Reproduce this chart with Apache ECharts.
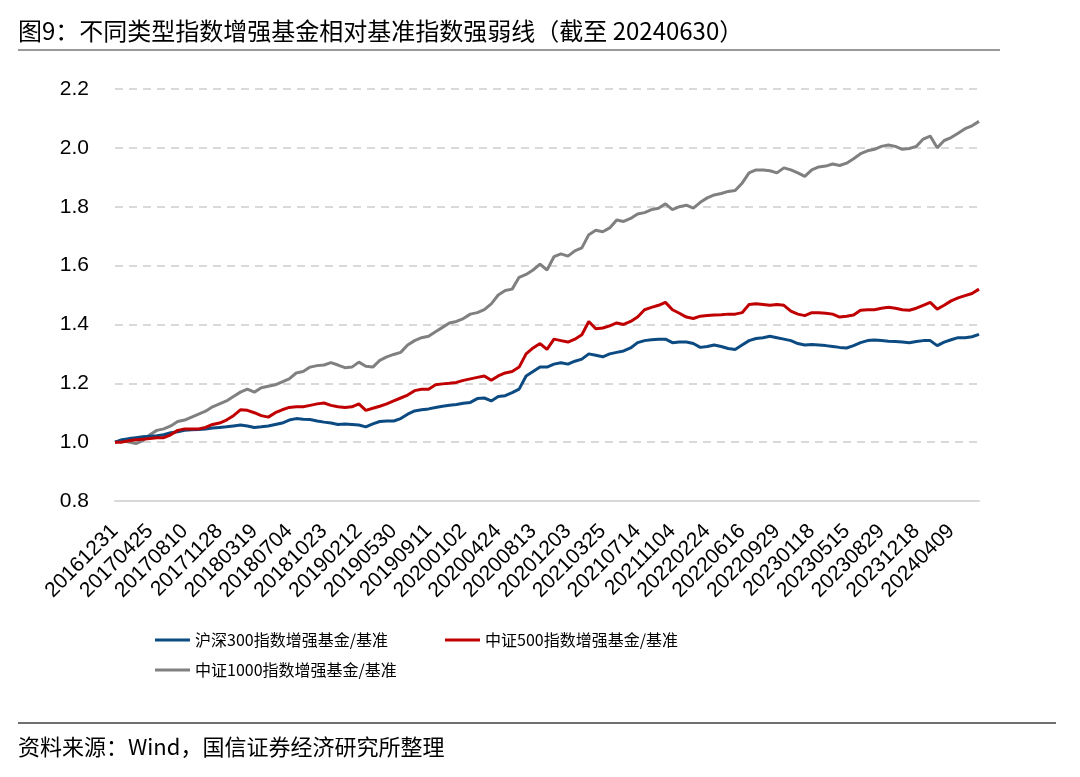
<!DOCTYPE html>
<html>
<head>
<meta charset="utf-8">
<script src="https://cdn.jsdelivr.net/npm/echarts@6/dist/echarts.min.js"></script>
<style>
html,body{margin:0;padding:0;background:#fff;}
#chart{width:1080px;height:777px;}
</style>
</head>
<body>
<div id="chart"></div>
<script>
// Tick labels on the x axis (one every label interval)
const tickLabels = ['20161231','20170425','20170810','20171128','20180319','20180704','20181023','20190212','20190530','20190911','20200102','20200424','20200813','20201203','20210325','20210714','20211104','20220224','20220616','20220929','20230118','20230515','20230829','20231218','20240409'];
// Samples per label interval (points read every 1/5 of an interval)
const pointsPerTick = 5;

const seriesNames = ['沪深300指数增强基金/基准','中证500指数增强基金/基准','中证1000指数增强基金/基准'];

const hs300 = [
1.000,1.008,1.012,1.015,1.018,1.020,1.022,1.025,1.032,1.035,
1.040,1.042,1.043,1.045,1.048,1.050,1.052,1.055,1.058,1.055,
1.050,1.052,1.055,1.060,1.065,1.075,1.080,1.078,1.077,1.072,
1.068,1.065,1.060,1.062,1.060,1.058,1.052,1.062,1.070,1.072,
1.072,1.080,1.095,1.106,1.110,1.113,1.118,1.122,1.125,1.128,
1.132,1.135,1.148,1.150,1.140,1.155,1.158,1.168,1.180,1.225,
1.240,1.255,1.255,1.265,1.270,1.265,1.275,1.282,1.300,1.295,
1.290,1.300,1.305,1.310,1.320,1.338,1.345,1.348,1.350,1.350,
1.338,1.340,1.340,1.335,1.322,1.325,1.330,1.325,1.318,1.315,
1.330,1.345,1.352,1.355,1.360,1.355,1.350,1.345,1.335,1.330,
1.332,1.330,1.328,1.325,1.322,1.320,1.328,1.338,1.345,1.347,
1.345,1.343,1.342,1.340,1.338,1.342,1.345,1.345,1.328,1.340,
1.348,1.355,1.355,1.358,1.366];

const zz500 = [
1.000,1.000,1.005,1.008,1.010,1.012,1.015,1.015,1.025,1.040,
1.045,1.045,1.045,1.050,1.060,1.065,1.075,1.090,1.110,1.108,
1.100,1.090,1.085,1.100,1.110,1.118,1.120,1.120,1.125,1.130,
1.133,1.125,1.120,1.118,1.120,1.130,1.108,1.115,1.122,1.130,
1.140,1.150,1.160,1.175,1.180,1.180,1.195,1.198,1.200,1.203,
1.210,1.215,1.220,1.225,1.210,1.225,1.235,1.240,1.255,1.300,
1.320,1.335,1.315,1.350,1.345,1.340,1.350,1.365,1.410,1.385,
1.388,1.395,1.405,1.400,1.410,1.425,1.450,1.458,1.465,1.475,
1.450,1.438,1.425,1.420,1.428,1.430,1.432,1.433,1.435,1.435,
1.440,1.468,1.470,1.468,1.465,1.468,1.465,1.445,1.435,1.430,
1.440,1.440,1.438,1.435,1.425,1.428,1.432,1.448,1.450,1.450,
1.455,1.458,1.455,1.450,1.448,1.455,1.465,1.475,1.452,1.465,
1.480,1.490,1.498,1.505,1.520];

const zz1000 = [
1.000,1.005,1.000,0.995,1.005,1.025,1.040,1.045,1.055,1.070,
1.075,1.085,1.095,1.105,1.120,1.130,1.140,1.155,1.170,1.180,
1.170,1.185,1.190,1.195,1.205,1.215,1.235,1.240,1.255,1.260,
1.262,1.270,1.262,1.253,1.255,1.272,1.258,1.255,1.278,1.290,
1.298,1.305,1.330,1.345,1.355,1.360,1.375,1.390,1.405,1.410,
1.420,1.435,1.440,1.450,1.470,1.500,1.515,1.520,1.560,1.570,
1.585,1.605,1.585,1.630,1.640,1.632,1.650,1.660,1.705,1.720,
1.715,1.728,1.755,1.750,1.760,1.775,1.780,1.790,1.795,1.810,
1.790,1.800,1.805,1.795,1.815,1.830,1.840,1.845,1.852,1.855,
1.880,1.915,1.925,1.925,1.922,1.915,1.932,1.925,1.915,1.903,
1.925,1.935,1.938,1.945,1.940,1.948,1.963,1.980,1.990,1.995,
2.005,2.010,2.005,1.995,1.998,2.005,2.030,2.040,2.000,2.025,
2.035,2.050,2.065,2.075,2.090];

const colors = ['#0c4a82','#c00000','#808080'];

const toPairs = arr => arr.map((v, i) => [i / pointsPerTick, v]);
const xMax = (zz1000.length - 1) / pointsPerTick;

const chart = echarts.init(document.getElementById('chart'), null, {renderer: 'canvas'});
const latin = 'Arial, "Liberation Sans", sans-serif';
const cjk = '"Noto Sans CJK SC", "Microsoft YaHei", sans-serif';

const legendBase = {
  orient: 'horizontal',
  itemWidth: 35,
  itemHeight: 3,
  itemGap: 0,
  padding: 0,
  icon: 'rect',
  textStyle: {fontFamily: cjk, fontSize: 16, color: '#000'}
};

chart.setOption({
  animation: false,
  backgroundColor: '#fff',
  color: colors,
  title: [
    {text: '图9：不同类型指数增强基金相对基准指数强弱线（截至 20240630）', left: 18, top: 19, padding: 0,
     textStyle: {fontFamily: cjk, fontSize: 24, fontWeight: 'normal', color: '#000'}},
    {text: '资料来源：Wind，国信证券经济研究所整理', left: 18, top: 736, padding: 0,
     textStyle: {fontFamily: cjk, fontSize: 22, fontWeight: 'normal', color: '#000'}}
  ],
  graphic: [
    {type: 'line', shape: {x1: 18, y1: 50, x2: 1000, y2: 50}, style: {stroke: '#9a9a9a', lineWidth: 2}},
    {type: 'line', shape: {x1: 18, y1: 723, x2: 1056, y2: 723}, style: {stroke: '#404040', lineWidth: 1.5}}
  ],
  legend: [
    Object.assign({}, legendBase, {left: 155, top: 632, data: [seriesNames[0]]}),
    Object.assign({}, legendBase, {left: 445, top: 632, data: [seriesNames[1]]}),
    Object.assign({}, legendBase, {left: 155, top: 662, data: [seriesNames[2]]})
  ],
  grid: {left: 115, right: 101, top: 89, bottom: 276, containLabel: false},
  xAxis: {
    type: 'value',
    min: 0,
    max: xMax,
    interval: 1,
    axisLine: {show: true, lineStyle: {color: '#d9d9d9', width: 2}},
    axisTick: {show: false},
    splitLine: {show: false},
    axisLabel: {
      rotate: 45,
      margin: 27,
      fontFamily: latin,
      fontSize: 21,
      color: '#000',
      showMaxLabel: false,
      formatter: v => (Number.isInteger(v) && tickLabels[v] !== undefined) ? tickLabels[v] : ''
    }
  },
  yAxis: {
    type: 'value',
    min: 0.8,
    max: 2.2,
    interval: 0.2,
    axisLine: {show: false},
    axisTick: {show: false},
    splitLine: {show: true, lineStyle: {color: '#d9d9d9', width: 2, type: [8, 6]}},
    axisLabel: {
      margin: 26,
      fontFamily: latin,
      fontSize: 21,
      color: '#000',
      formatter: v => v.toFixed(1)
    }
  },
  series: [
    {name: seriesNames[0], type: 'line', data: toPairs(hs300), showSymbol: false, symbol: 'none',
     lineStyle: {width: 3, color: colors[0]}, itemStyle: {color: colors[0]}, z: 3},
    {name: seriesNames[1], type: 'line', data: toPairs(zz500), showSymbol: false, symbol: 'none',
     lineStyle: {width: 3, color: colors[1]}, itemStyle: {color: colors[1]}, z: 4},
    {name: seriesNames[2], type: 'line', data: toPairs(zz1000), showSymbol: false, symbol: 'none',
     lineStyle: {width: 3, color: colors[2]}, itemStyle: {color: colors[2]}, z: 2}
  ]
});
</script>
</body>
</html>
